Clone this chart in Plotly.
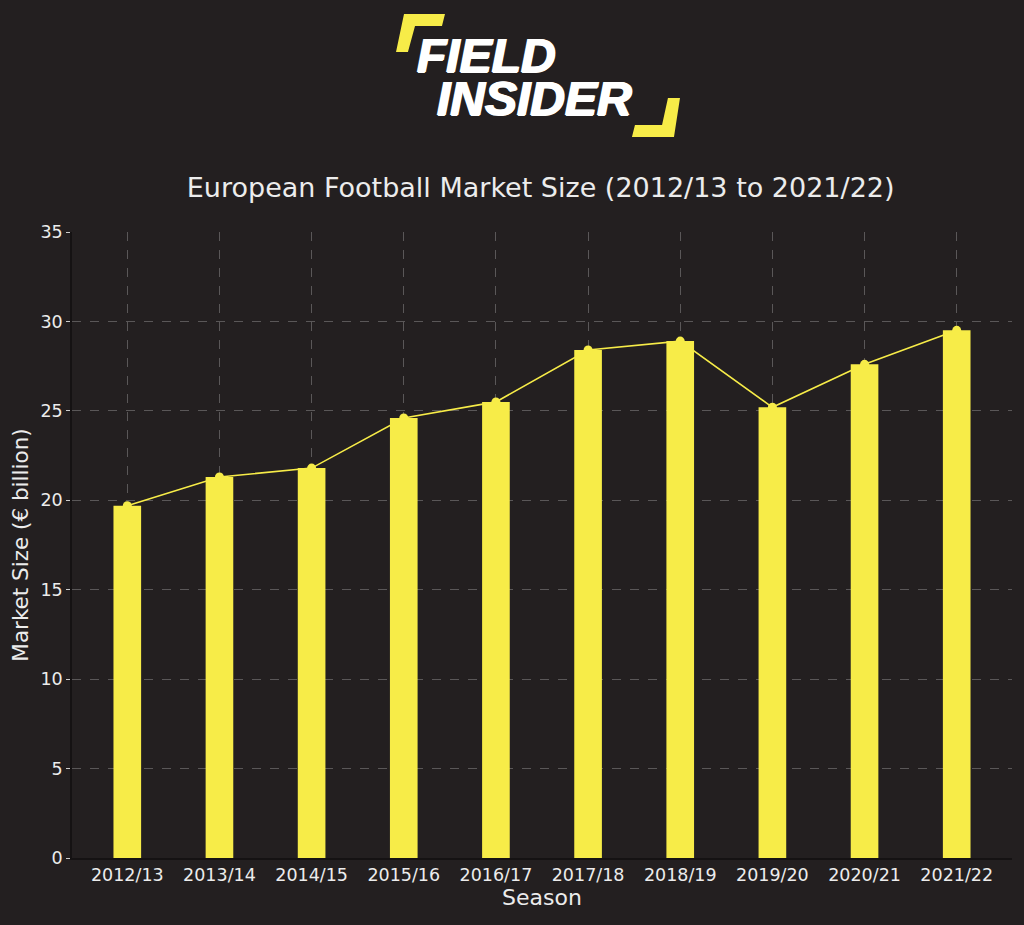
import plotly.graph_objects as go

seasons = ["2012/13", "2013/14", "2014/15", "2015/16", "2016/17",
           "2017/18", "2018/19", "2019/20", "2020/21", "2021/22"]
market_size = [19.7, 21.3, 21.8, 24.6, 25.5, 28.4, 28.9, 25.2, 27.6, 29.5]
y_ticks = [0, 5, 10, 15, 20, 25, 30, 35]

BG = "#231f20"
YELLOW = "#f7ec48"
TEXT = "#ececec"
FONT = "DejaVu Sans"

# plot area in pixels (width 1024, height 925)
L, R, T, B = 72, 1012, 232, 858


def px(x):
    return (x - L) / (R - L)


def py(y):
    return (B - y) / (B - T)


fig = go.Figure()
fig.add_trace(go.Bar(x=seasons, y=market_size, width=0.3,
                     marker=dict(color=YELLOW, line=dict(width=0))))
fig.add_trace(go.Scatter(x=seasons, y=market_size, mode="lines+markers",
                         line=dict(color=YELLOW, width=1.6),
                         marker=dict(color=YELLOW, size=9)))

# logo: yellow corner brackets
tl = [(404, 14), (445, 14), (442, 26), (415, 26), (408, 52), (396, 52)]
br = [(668, 98), (680, 98), (674, 137), (632, 137), (635, 125), (662, 125)]
shapes = []
for poly in (tl, br):
    path = "M " + " L ".join(f"{px(a):.4f},{py(b):.4f}" for a, b in poly) + " Z"
    shapes.append(dict(type="path", path=path, xref="paper", yref="paper",
                       fillcolor=YELLOW, line=dict(width=0), layer="above"))

# logo words (text-shadow makes them look heavier)
heavy = "1px 0px 0px white, 2px 0px 0px white, 1px 1px 0px white"
annotations = []
for word, x0, y0 in (("FIELD", 414, 56), ("INSIDER", 434, 99)):
    annotations.append(dict(text=word, x=px(x0), y=py(y0), xref="paper", yref="paper",
                            xanchor="left", yanchor="middle", showarrow=False,
                            font=dict(family="Liberation Sans", size=48, color="white",
                                      weight=900, style="italic", shadow=heavy)))

fig.update_layout(
    width=1024, height=925,
    margin=dict(l=L, r=1024 - R, t=T, b=925 - B),
    paper_bgcolor=BG, plot_bgcolor=BG,
    showlegend=False,
    font=dict(family=FONT, color=TEXT),
    title=dict(text="European Football Market Size (2012/13 to 2021/22)",
               x=0.528, xanchor="center", y=1 - 188 / 925, yanchor="middle",
               font=dict(size=27, color=TEXT)),
    shapes=shapes,
    annotations=annotations,
)
fig.update_xaxes(range=[-0.6, 9.6], showgrid=True,
                 gridcolor="rgba(255,255,255,0.25)", griddash="dash", gridwidth=1,
                 showline=True, linecolor="#151213", linewidth=1.5,
                 ticks="", tickfont=dict(size=17.5, color=TEXT),
                 title=dict(text="Season", font=dict(size=22, color=TEXT), standoff=4),
                 layer="above traces")
fig.update_yaxes(range=[0, 35], tickvals=y_ticks, showgrid=True,
                 gridcolor="rgba(255,255,255,0.25)", griddash="dash", gridwidth=1,
                 showline=True, linecolor="#151213", linewidth=1.5,
                 ticks="outside", ticklen=4, tickcolor="#cccccc",
                 tickfont=dict(size=17.5, color=TEXT), zeroline=False,
                 title=dict(text="Market Size (€ billion)", font=dict(size=21.5, color=TEXT),
                            standoff=6),
                 layer="above traces")

fig.write_html("out.html", config={"displayModeBar": False},
               post_script="document.body.style.margin='0';")
